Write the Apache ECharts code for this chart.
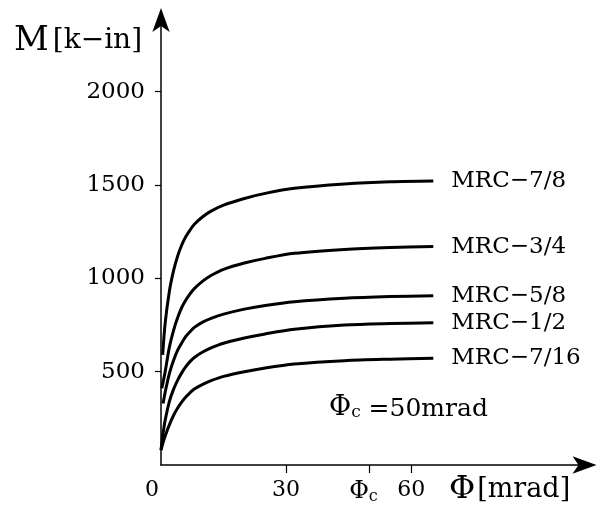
<!DOCTYPE html>
<html>
<head>
<meta charset="utf-8">
<script src="https://cdn.jsdelivr.net/npm/echarts@6/dist/echarts.min.js"></script>
<style>
  html, body { margin: 0; padding: 0; background: #fff; }
  #chart { width: 614px; height: 510px; }
</style>
</head>
<body>
<div id="chart"></div>
<script>
// curvature phi [mrad] and moment M [k-in]
var phi78 = [0.4, 1, 2, 3, 4, 5, 6, 7, 8, 10, 12, 15, 20, 25, 32, 44, 55, 65.3];
var m78 = [590, 760, 930, 1040, 1120, 1180, 1225, 1260, 1290, 1330, 1360, 1392, 1428, 1455, 1482, 1505, 1517, 1521];
var phi34 = [0.2, 1, 2, 3, 4, 5, 6, 7, 8, 10, 12, 15, 20, 25, 32, 44, 55, 65.3];
var m34 = [411, 500, 630, 720, 790, 845, 885, 918, 945, 985, 1015, 1048, 1082, 1107, 1134, 1155, 1165, 1170];
var phi58 = [0.5, 1, 2, 3, 4, 5, 6, 7, 8, 10, 12, 15, 20, 25, 32, 44, 55, 65.3];
var m58 = [330, 390, 490, 560, 615, 655, 690, 715, 737, 765, 785, 808, 835, 855, 875, 893, 902, 907];
var phi12 = [0, 0.5, 1, 2, 3, 4, 5, 6, 7, 8, 10, 12, 15, 20, 25, 32, 44, 55, 65.3];
var m12 = [80, 170, 240, 340, 405, 455, 495, 528, 555, 576, 605, 627, 652, 680, 702, 727, 750, 758, 762];
var phi716 = [0, 0.5, 1, 2, 3, 4, 5, 6, 7, 8, 10, 12, 15, 20, 25, 32, 44, 55, 65.3];
var m716 = [80, 120, 155, 215, 265, 305, 338, 365, 388, 407, 432, 452, 475, 500, 520, 541, 559, 567, 572];

var names = ['MRC\u22127/8', 'MRC\u22123/4', 'MRC\u22125/8', 'MRC\u22121/2', 'MRC\u22127/16'];
var xTicks = [30, 50, 60];
var xLabels = [0, 30, 50, 60];
var yTicks = [500, 1000, 1500, 2000];

var FONT = 'DejaVu Serif';

function pairs(xs, ys) {
  return xs.map(function (x, i) { return [x, ys[i]]; });
}

var curves = [
  pairs(phi78, m78),
  pairs(phi34, m34),
  pairs(phi58, m58),
  pairs(phi12, m12),
  pairs(phi716, m716)
];

var arrowLine = {
  lineStyle: { color: '#000', width: 1.5 },
  symbol: ['none', 'arrow'],
  symbolSize: [13, 24],
  symbolOffset: [0, 6]
};

var chart = echarts.init(document.getElementById('chart'));

chart.setOption({
  backgroundColor: '#fff',
  animation: false,
  grid: { left: 161, top: 14, width: 429.5, height: 451 },
  xAxis: {
    type: 'value',
    min: 0,
    max: 103,
    splitLine: { show: false },
    axisLine: arrowLine,
    axisTick: { show: true, customValues: xTicks, length: 8, lineStyle: { color: '#000', width: 1.2 } },
    axisLabel: {
      customValues: xLabels,
      margin: 14,
      color: '#000',
      fontFamily: FONT,
      fontSize: 22,
      formatter: function (v) {
        if (v === 0) return '{z|0}';
        if (v === 50) return '{p|\u03A6}{s|c}';
        return String(v);
      },
      rich: {
        z: { fontFamily: FONT, fontSize: 22, color: '#000', padding: [0, 18, 0, 0] },
        p: { fontFamily: FONT, fontSize: 24, color: '#000' },
        s: { fontFamily: FONT, fontSize: 16, color: '#000', padding: [10, 12, 0, 0] }
      }
    }
  },
  yAxis: {
    type: 'value',
    min: 0,
    max: 2416,
    splitLine: { show: false },
    axisLine: arrowLine,
    axisTick: { show: true, customValues: yTicks, length: 6, lineStyle: { color: '#000', width: 1.2 } },
    axisLabel: {
      customValues: yTicks,
      margin: 16,
      color: '#000',
      fontFamily: FONT,
      fontSize: 23,
      formatter: function (v) { return String(v); }
    }
  },
  series: curves.map(function (d, i) {
    return {
      name: names[i],
      type: 'line',
      data: d,
      smooth: 0.3,
      showSymbol: false,
      lineStyle: { color: '#000', width: 3 },
      endLabel: {
        show: true,
        formatter: '{a}',
        distance: 18,
        color: '#000',
        fontFamily: FONT,
        fontSize: 23
      }
    };
  }),
  graphic: [
    {
      type: 'text',
      left: 14,
      top: 24,
      style: {
        text: '{m|M}{b|[k\u2212in]}',
        rich: {
          m: { fontFamily: FONT, fontSize: 34, fill: '#000' },
          b: { fontFamily: FONT, fontSize: 28, fill: '#000', padding: [0, 0, 0, 4] }
        }
      }
    },
    {
      type: 'text',
      left: 449,
      top: 474,
      style: {
        text: '{p|\u03A6}{b|[mrad]}',
        rich: {
          p: { fontFamily: FONT, fontSize: 32, fill: '#000' },
          b: { fontFamily: FONT, fontSize: 27, fill: '#000', padding: [0, 0, 0, 2] }
        }
      }
    },
    {
      type: 'text',
      left: 329,
      top: 394,
      style: {
        text: '{p|\u03A6}{s|c}{t| =50mrad}',
        rich: {
          p: { fontFamily: FONT, fontSize: 27, fill: '#000' },
          s: { fontFamily: FONT, fontSize: 17, fill: '#000', padding: [10, 0, 0, 0] },
          t: { fontFamily: FONT, fontSize: 25, fill: '#000', padding: [4, 0, 0, 0] }
        }
      }
    }
  ]
});
</script>
</body>
</html>
